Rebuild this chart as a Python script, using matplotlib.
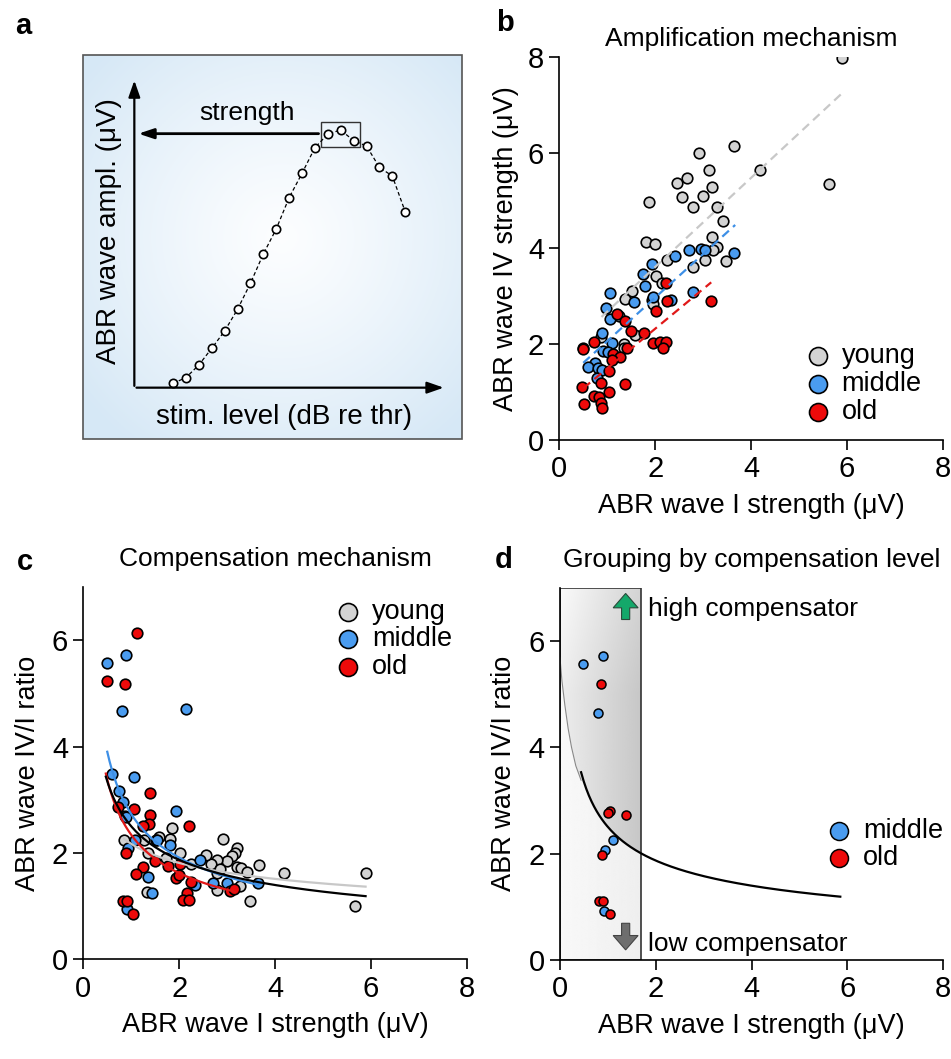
import numpy as np
import matplotlib
matplotlib.use('Agg')
import matplotlib.pyplot as plt
from matplotlib.patches import Rectangle, FancyArrow

plt.rcParams['font.family'] = ['Liberation Sans', 'DejaVu Sans']

# ---- panel a: schematic input/output curve ----
a_level = [3, 4, 5, 6, 7, 8, 9, 10, 11, 12, 13, 14, 15, 16, 17, 18, 19, 20, 21]
a_ampl = [1.3, 3.0, 6.8, 11.8, 17.0, 23.5, 31.3, 40.1, 47.6, 57.0, 64.3, 72.0,
          76.1, 77.3, 74.1, 72.5, 66.1, 63.5, 52.8]

# ---- panel b: wave IV vs wave I strength ----
young_b_x = [5.89, 3.65, 2.92, 4.18, 3.12, 5.63, 2.46, 2.67, 3.18, 2.55, 2.99, 1.87,
             2.78, 3.29, 3.41, 1.81, 2.00, 3.18, 3.29, 3.20, 3.04, 3.47, 2.24, 2.80,
             2.02, 1.51, 1.37, 1.94, 1.96, 1.25, 0.87, 1.57, 1.34, 1.36, 2.14]
young_b_y = [7.98, 6.14, 6.00, 5.63, 5.64, 5.34, 5.37, 5.46, 5.29, 5.08, 5.10, 4.97,
             4.86, 4.87, 4.58, 4.14, 4.09, 4.23, 4.02, 3.97, 3.76, 3.74, 3.76, 3.62,
             3.43, 3.12, 2.94, 2.92, 2.84, 2.59, 2.14, 2.19, 2.00, 1.93, 3.27]
mid_b_x = [3.65, 2.71, 2.95, 3.05, 2.42, 1.94, 1.74, 1.78, 2.80, 1.55, 2.33, 1.96,
           1.06, 0.97, 1.06, 0.89, 1.09, 0.92, 1.02, 0.75, 0.59, 0.80, 0.90, 0.78]
mid_b_y = [3.90, 3.97, 3.98, 3.97, 3.84, 3.68, 3.47, 3.22, 3.08, 2.89, 2.92, 2.98,
           3.06, 2.75, 2.53, 2.24, 2.02, 1.86, 1.84, 1.60, 1.53, 1.50, 1.47, 1.30]
old_b_x = [2.22, 3.17, 2.24, 2.02, 1.21, 1.38, 1.49, 1.77, 1.96, 2.10, 2.22, 2.16,
           1.42, 0.72, 0.49, 0.49, 1.13, 1.27, 1.11, 1.04, 0.86, 1.38, 0.48, 1.04,
           0.72, 0.83, 0.51, 0.88, 0.90]
old_b_y = [3.28, 2.90, 2.90, 2.70, 2.64, 2.49, 2.27, 2.24, 2.03, 2.04, 2.04, 1.92,
           1.91, 2.05, 1.93, 1.89, 1.80, 1.74, 1.67, 1.43, 1.18, 1.16, 1.10, 1.00,
           0.92, 0.90, 0.75, 0.77, 0.66]
# linear fits: slope, intercept, x range
fit_b = {'young': (0.93, 1.75, 0.88, 5.89),
         'middle': (0.908, 1.156, 0.50, 3.67),
         'old': (0.828, 0.666, 0.50, 3.17)}

# ---- panel c: IV/I ratio vs wave I strength ----
young_c_x = [5.89, 5.66, 4.19, 3.67, 2.92, 3.20, 3.17, 3.10, 2.99, 3.20, 3.30, 3.41,
             2.78, 2.66, 2.55, 2.25, 2.02, 1.86, 1.81, 1.57, 1.52, 0.85, 1.27, 1.36,
             2.80, 3.28, 3.48, 2.78, 2.85, 1.32, 0.86, 1.73]
young_c_y = [1.62, 1.00, 1.62, 1.77, 2.27, 2.09, 2.00, 1.94, 1.85, 1.74, 1.71, 1.65,
             1.87, 1.80, 1.96, 1.80, 1.99, 2.46, 2.27, 2.30, 2.24, 2.24, 2.25, 1.99,
             1.30, 1.37, 1.10, 1.62, 1.69, 1.27, 2.70, 1.90]
mid_c_x = [0.49, 0.89, 0.81, 2.14, 0.60, 1.06, 0.75, 0.83, 1.93, 0.89, 1.81, 0.94,
           2.43, 1.36, 1.43, 0.92, 2.71, 2.99, 3.65, 2.33, 1.53, 1.08]
mid_c_y = [5.57, 5.72, 4.66, 4.70, 3.48, 3.43, 3.17, 2.95, 2.79, 2.68, 2.15, 2.09,
           1.87, 1.54, 1.24, 0.94, 1.43, 1.44, 1.44, 1.40, 2.24, 2.25]
old_c_x = [1.13, 0.50, 0.86, 1.39, 1.06, 0.73, 1.39, 1.38, 1.24, 2.21, 0.89, 1.25,
           1.11, 1.50, 1.77, 2.02, 1.93, 2.00, 2.24, 2.17, 2.07, 2.21, 0.83, 0.92,
           1.04, 3.06, 3.15]
old_c_y = [6.14, 5.23, 5.18, 3.12, 2.82, 2.86, 2.71, 2.54, 2.50, 2.50, 1.99, 1.74,
           1.60, 1.85, 1.76, 1.79, 1.53, 1.58, 1.45, 1.25, 1.11, 1.11, 1.10, 1.10,
           0.86, 1.28, 1.32]
# power fits y = a * x**b : a, b, x range
fit_c = {'young': (2.17, -0.261, 0.85, 5.89),
         'middle': (2.73, -0.515, 0.50, 3.65),
         'old': (2.34, -0.53, 0.47, 3.17),
         'all': (2.50, -0.42, 0.47, 5.89)}

# ---- panel d: low wave I animals ----
mid_d_x = [0.49, 0.89, 0.79, 1.11, 0.94, 0.92]
mid_d_y = [5.56, 5.72, 4.65, 2.25, 2.07, 0.93]
old_d_x = [0.85, 1.04, 1.01, 1.38, 0.88, 0.82, 0.90, 1.04]
old_d_y = [5.18, 2.81, 2.77, 2.72, 1.98, 1.10, 1.11, 0.86]
d_cut = 1.69
thin_x = [0.0, 0.04, 0.10, 0.17, 0.24, 0.33, 0.44]
thin_y = [5.68, 5.25, 4.80, 4.35, 4.00, 3.65, 3.38]

colors = {'young': '#d3d3d3', 'middle': '#4a9cf0', 'old': '#ee0a0a'}
line_colors = {'young': '#c8c8c8', 'middle': '#3d8fe6', 'old': '#e01818', 'all': 'black'}

W, H = 951, 1059
fig = plt.figure(figsize=(W / 100, H / 100), dpi=100)


def px_axes(x0, y0, x1, y1):
    return fig.add_axes([x0 / W, 1 - y1 / H, (x1 - x0) / W, (y1 - y0) / H])


def style(ax, ylim):
    ax.set_xlim(0, 8)
    ax.set_ylim(0, ylim)
    ax.set_xticks([0, 2, 4, 6, 8])
    ax.set_yticks([0, 2, 4, 6] if ylim < 8 else [0, 2, 4, 6, 8])
    for s in ['top', 'right']:
        ax.spines[s].set_visible(False)
    for s in ['left', 'bottom']:
        ax.spines[s].set_linewidth(1.2)
    ax.tick_params(length=7, width=1.2, labelsize=21, pad=4)
    ax.set_xlabel('ABR wave I strength (μV)', fontsize=19.5, labelpad=7)


leg_kw = dict(frameon=False, fontsize=19.5, handlelength=1.2, handletextpad=0.28,
              labelspacing=0.06, borderpad=0, borderaxespad=0)

# ---------------- panel a ----------------
axa = px_axes(83, 55, 461.7, 439)
axa.set_xlim(-3.98, 25.38)
axa.set_ylim(-15.4, 99.8)
axa.axis('off')
gx, gy = np.meshgrid(np.linspace(-1, 1, 200), np.linspace(-1, 1, 200))
r = np.clip(np.sqrt((gx - 0.05) ** 2 + (gy + 0.05) ** 2) / 1.35, 0, 1)
edge = np.array([0.84, 0.91, 0.965])
img = (1 - r[..., None] ** 1.2) * np.array([0.99, 0.995, 1.0]) + r[..., None] ** 1.2 * edge
axa.imshow(img, extent=[-3.98, 25.38, -15.4, 99.8], aspect='auto', zorder=0)
axa.add_patch(Rectangle((-3.98, -15.4), 29.36, 115.2, fill=False, ec='#555555', lw=1.2,
                        transform=axa.transData, clip_on=False, zorder=5))
axa.annotate('', xy=(0, 93), xytext=(0, -0.3),
             arrowprops=dict(arrowstyle='-|>,head_width=0.35,head_length=1.0', lw=1.6, color='black'))
axa.annotate('', xy=(24.2, 0), xytext=(-0.05, 0),
             arrowprops=dict(arrowstyle='-|>,head_width=0.35,head_length=1.0', lw=1.6, color='black'))
axa.annotate('', xy=(0.1, 76.2), xytext=(14.5, 76.2),
             arrowprops=dict(arrowstyle='-|>,head_width=0.3,head_length=0.9', lw=2.0, color='black'))
axa.add_patch(Rectangle((14.5, 72.3), 3.0, 7.3, fill=False, ec='#333333', lw=1.0))
axa.plot(a_level, a_ampl, ls=(0, (3, 2)), color='black', lw=0.9, marker='o', ms=6,
         mfc='white', mec='black', mew=1.2)
axa.text(8.7, 78.8, 'strength', fontsize=19, ha='center', va='bottom')
axa.text(11.6, -4.8, 'stim. level (dB re thr)', fontsize=20, ha='center', va='top')
axa.text(-2.0, 47, 'ABR wave ampl. (μV)', fontsize=20, ha='center', va='center', rotation=90)

# ---------------- panel b ----------------
axb = px_axes(559.3, 56.7, 942.7, 440)
style(axb, 8)
for key, xs, ys in [('young', young_b_x, young_b_y), ('middle', mid_b_x, mid_b_y),
                    ('old', old_b_x, old_b_y)]:
    axb.scatter(xs, ys, s=58, c=colors[key], edgecolors='black', linewidths=1.2,
                label=key, zorder=3)
for key in ['young', 'middle', 'old']:
    m, c0, x0, x1 = fit_b[key]
    xx = np.array([x0, x1])
    axb.plot(xx, m * xx + c0, ls=(0, (4, 2.5)), color=line_colors[key], lw=1.6, zorder=4)
axb.set_ylabel('ABR wave IV strength (μV)', fontsize=19.5, labelpad=6)
axb.set_title('Amplification mechanism', fontsize=19, pad=8)
axb.legend(loc='lower right', bbox_to_anchor=(0.945, 0.04), markerscale=1.7, **leg_kw)

# ---------------- panel c ----------------
axc = px_axes(83.3, 586.9, 466.7, 959.3)
style(axc, 7)
for key, xs, ys in [('young', young_c_x, young_c_y), ('middle', mid_c_x, mid_c_y),
                    ('old', old_c_x, old_c_y)]:
    axc.scatter(xs, ys, s=58, c=colors[key], edgecolors='black', linewidths=1.2,
                label=key, zorder=3)
for key in ['young', 'middle', 'old', 'all']:
    a, b, x0, x1 = fit_c[key]
    xx = np.linspace(x0, x1, 200)
    axc.plot(xx, a * xx ** b, color=line_colors[key], lw=1.6, zorder=4)
axc.set_ylabel('ABR wave IV/I ratio', fontsize=19.5, labelpad=8)
axc.set_title('Compensation mechanism', fontsize=19, pad=15)
axc.legend(loc='upper right', bbox_to_anchor=(0.962, 0.968), markerscale=1.7, **leg_kw)

# ---------------- panel d ----------------
axd = px_axes(560, 587.6, 943.3, 960)
style(axd, 7)
a, b, x0, x1 = fit_c['all']
gxs = np.linspace(0, d_cut, 200)
gys = np.linspace(0, 7, 400)
X, Y = np.meshgrid(gxs, gys)
boundary = np.where(gxs < thin_x[-1], np.interp(gxs, thin_x, thin_y),
                    a * np.maximum(gxs, 1e-3) ** b)
above = Y > boundary[None, :]
val = np.where(above,
               0.93 - 0.15 * (X / d_cut) + 0.05 * np.clip((Y - 5) / 2, 0, 1),
               0.975 - 0.04 * (X / d_cut))
axd.imshow(val, extent=[0, d_cut, 0, 7], origin='lower', aspect='auto', cmap='gray',
           vmin=0, vmax=1, zorder=0)
axd.add_patch(Rectangle((0, 0), d_cut, 7, fill=False, ec='#333333', lw=1.2, zorder=2))
axd.plot(thin_x, thin_y, color='#888888', lw=0.8, zorder=2)
xx = np.linspace(thin_x[-1], 5.85, 200)
axd.plot(xx, a * xx ** b, color='black', lw=1.6, zorder=2)
axd.scatter(mid_d_x, mid_d_y, s=42, c=colors['middle'], edgecolors='black', linewidths=1.1,
            label='middle', zorder=3)
axd.scatter(old_d_x, old_d_y, s=42, c=colors['old'], edgecolors='black', linewidths=1.1,
            label='old', zorder=3)
axd.add_patch(FancyArrow(1.37, 6.4, 0, 0.49, width=0.17, head_width=0.52, head_length=0.27,
                         length_includes_head=True, fc='#14a86a', ec='#2a4a3a', lw=0.8, zorder=4))
axd.add_patch(FancyArrow(1.37, 0.69, 0, -0.5, width=0.17, head_width=0.52, head_length=0.27,
                         length_includes_head=True, fc='#6e6e6e', ec='#444444', lw=0.8, zorder=4))
axd.text(1.84, 6.59, 'high compensator', fontsize=19, va='center', ha='left')
axd.text(1.84, 0.31, 'low compensator', fontsize=19, va='center', ha='left')
axd.set_ylabel('ABR wave IV/I ratio', fontsize=19.5, labelpad=8)
axd.set_title('Grouping by compensation level', fontsize=19, pad=15)
axd.legend(loc='center right', bbox_to_anchor=(1.0, 0.31), markerscale=2.0, **leg_kw)

# panel letters
for lab, x, y in [('a', 15, 12), ('b', 496, 9), ('c', 17, 548), ('d', 495, 546)]:
    fig.text(x / W, 1 - y / H, lab, fontsize=21, fontweight='bold', va='top', ha='left')

fig.savefig('out.png', dpi=100)
